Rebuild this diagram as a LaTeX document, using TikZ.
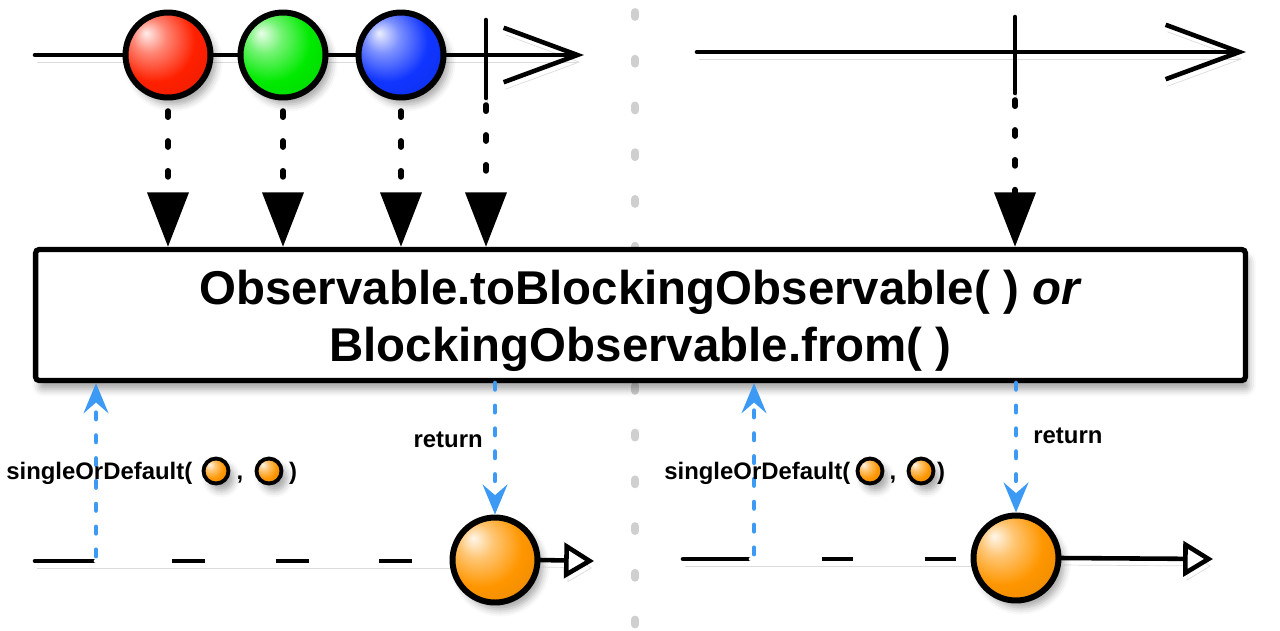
\documentclass[tikz,border=0pt]{standalone}
\usepackage{fontspec}
\setmainfont{Liberation Sans}
\usetikzlibrary{arrows.meta,shadows.blur}
\definecolor{marblered}{HTML}{FF2000}
\definecolor{marblegreen}{HTML}{00EA00}
\definecolor{marbleblue}{HTML}{1035FF}
\definecolor{marbleorange}{HTML}{FF9600}
\definecolor{callblue}{HTML}{3C9AF5}
\definecolor{divgray}{HTML}{CFCFCF}
\colorlet{marblecol}{marblered}
\pgfdeclareradialshading[marblecol]{marble}{\pgfpoint{-13bp}{13bp}}{%
  color(0bp)=(marblecol!8!white); color(10bp)=(marblecol!55!white);
  color(24bp)=(marblecol); color(44bp)=(marblecol!88!black); color(64bp)=(marblecol!55!black)}

\begin{document}
\begin{tikzpicture}[x=0.02cm,y=-0.02cm,
  point/.style={coordinate},
  marblecolor/.code={\colorlet{marblecol}{#1}\tikzset{shading=marble}},
  marble/.style={circle, draw=black, line width=3.4pt, minimum size=1.7cm, inner sep=0pt,
    blur shadow={shadow xshift=3pt, shadow yshift=-4pt, shadow blur radius=4pt, shadow opacity=35}},
  smallmarble/.style={marble, line width=2.2pt, minimum size=0.5cm},
  opbox/.style={draw=black, line width=3pt, rounded corners=2pt, rectangle, fill=white,
    minimum width=24.2cm, minimum height=2.62cm,
    blur shadow={shadow xshift=2pt, shadow yshift=-5pt, shadow blur radius=4pt, shadow opacity=35}},
  optext/.style={align=center, inner sep=0pt, font=\fontsize{27}{32.5}\selectfont\bfseries},
  labeltext/.style={inner sep=0pt, font=\fontsize{13.6}{16}\selectfont\bfseries},
  lineshadow/.style={preaction={draw=black!45, opacity=0.3, transform canvas={xshift=1pt, yshift=-4pt}}},
  timeline/.style={line width=2.6pt, line cap=round, lineshadow},
  emitarrow/.style={line width=3.2pt, line cap=round, dash pattern=on 3.5pt off 13.5pt,
    -{Triangle[length=31pt, width=23pt]}},
  callarrow/.style={draw=callblue, line width=2.8pt, line cap=round, dash pattern=on 3.5pt off 9.5pt,
    -{Stealth[length=17pt, width=14pt, inset=6pt]}},
  divider/.style={draw=divgray, line width=4.5pt, line cap=round, dash pattern=on 2.8pt off 23.8pt}]
\useasboundingbox (0,0) rectangle (1280,630);

% divider
\node[point] (div0) at (635,12) {};
\node[point] (div1) at (635,630) {};
\draw[divider] (div0) -- (div1);

% top left
\node[point] (tl0) at (35,55) {};
\node[point] (tl1) at (584,55) {};
\node[point] (tk1a) at (486,20) {};
\node[point] (tk1b) at (486,98) {};
\draw[timeline, -{Straight Barb[length=42pt, width=31pt]}] (tl0) -- (tl1);
\draw[timeline] (tk1a) -- (tk1b);
\node[marble, marblecolor=marblered] (r) at (168,55) {};
\node[marble, marblecolor=marblegreen] (g) at (283,55) {};
\node[marble, marblecolor=marbleblue] (b) at (401,55) {};

% top right
\node[point] (tr0) at (697,52) {};
\node[point] (tr1) at (1246,52) {};
\node[point] (tk2a) at (1015,17) {};
\node[point] (tk2b) at (1015,93) {};
\draw[timeline, -{Straight Barb[length=42pt, width=31pt]}] (tr0) -- (tr1);
\draw[timeline] (tk2a) -- (tk2b);

% operator
\node[opbox] (op) at (640.5,315) {};
\node[optext] (optxt) at (640.5,321) {Observable.toBlockingObservable( ) \textit{or}\\BlockingObservable.from( )};

\draw[emitarrow] ([yshift=-6pt]r.south) -- (r.south |- op.north);
\draw[emitarrow] ([yshift=-6pt]g.south) -- (g.south |- op.north);
\draw[emitarrow] ([yshift=-6pt]b.south) -- (b.south |- op.north);
\draw[emitarrow] ([yshift=-4pt]tk1b) -- (tk1b |- op.north);
\draw[emitarrow] ([yshift=-4pt]tk2b) -- (tk2b |- op.north);

% bottom left
\node[point] (bl0) at (35,561) {};
\node[point] (bl1) at (96,561) {};
\node[point] (bl2) at (172,561) {};
\node[point] (bl3) at (413,561) {};
\node[point] (bl4) at (594,561) {};
\node[point] (bw1) at (460,561) {};
\draw[timeline] (bl0) -- (bl1);
\draw[timeline, draw=white] (bl1) -- (bw1);
\draw[line width=2.6pt, dash pattern=on 18.7pt off 40.3pt] (bl2) -- (bl3);
\node[marble, marblecolor=marbleorange] (o1) at (495,560) {};
\draw[timeline, -{Triangle[fill=white, length=17pt, width=20pt]}] (o1.east) -- (bl4);
\node[point] (cu1) at (96,556) {};
\draw[callarrow] (cu1) -- (cu1 |- op.south);
\draw[callarrow] (op.south -| o1) -- (o1.north);
\node[labeltext, anchor=base east] (ret1) at (483,447) {return};
\node[labeltext, anchor=base west] (sod1) at (6,479) {singleOrDefault(};
\node[smallmarble, marblecolor=marbleorange] (d1a) at (216,471) {};
\node[labeltext, anchor=base] (c1) at (240,479) {,};
\node[smallmarble, marblecolor=marbleorange] (d1b) at (269,471) {};
\node[labeltext, anchor=base] (p1) at (293,479) {)};

% bottom right
\node[point] (br0) at (683,559) {};
\node[point] (br1) at (751,559) {};
\node[point] (br2) at (822,559) {};
\node[point] (br3) at (957,559) {};
\node[point] (br4) at (1213,559) {};
\node[point] (bw2) at (980,559) {};
\draw[timeline] (br0) -- (br1);
\draw[timeline, draw=white] (br1) -- (bw2);
\draw[line width=2.6pt, dash pattern=on 17.6pt off 40.8pt] (br2) -- (br3);
\node[marble, marblecolor=marbleorange] (o2) at (1016,558) {};
\draw[timeline, -{Triangle[fill=white, length=17pt, width=20pt]}] (o2.east) -- (br4);
\node[point] (cu2) at (754,554) {};
\draw[callarrow] (cu2) -- (cu2 |- op.south);
\draw[callarrow] (op.south -| o2) -- (o2.north);
\node[labeltext, anchor=base west] (ret2) at (1033,443) {return};
\node[labeltext, anchor=base west] (sod2) at (664,479) {singleOrDefault(};
\node[smallmarble, marblecolor=marbleorange] (d2a) at (870,471) {};
\node[labeltext, anchor=base] (c2) at (893,479) {,};
\node[smallmarble, marblecolor=marbleorange] (d2b) at (921,471) {};
\node[labeltext, anchor=base] (p2) at (941,479) {)};
\end{tikzpicture}
\end{document}
